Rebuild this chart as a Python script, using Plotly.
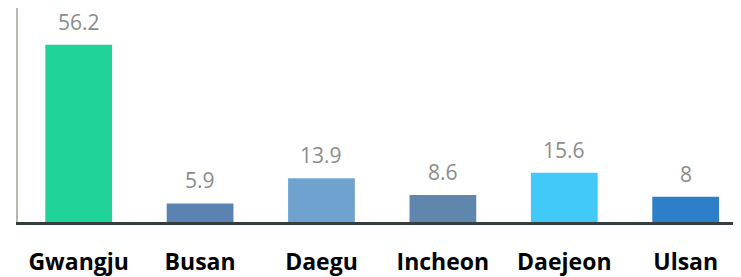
import plotly.graph_objects as go

cities = ["Gwangju", "Busan", "Daegu", "Incheon", "Daejeon", "Ulsan"]
values = [56.2, 5.9, 13.9, 8.6, 15.6, 8]
value_labels = ["56.2", "5.9", "13.9", "8.6", "15.6", "8"]
bar_colors = ["#1fd39b", "#5a83b2", "#70a2d0", "#5f87ae", "#40c9f9", "#2e7fc9"]

fig = go.Figure()
fig.add_trace(go.Bar(
    x=cities, y=values,
    marker=dict(color=bar_colors, line=dict(width=0)),
    width=0.55,
    hoverinfo="skip",
))

for c, v, t in zip(cities, values, value_labels):
    fig.add_annotation(
        x=c, y=v, text=t, showarrow=False, yanchor="bottom", yshift=7,
        font=dict(family="Open Sans", size=21, color="#8c8c8c"),
    )

# page body has an 8px default margin; margins compensate for it
fig.update_layout(
    width=741, height=277,
    margin=dict(l=10, r=3, t=0, b=63),
    paper_bgcolor="white", plot_bgcolor="white",
    showlegend=False,
)
fig.update_xaxes(
    range=[-0.5, 5.497], showgrid=False, zeroline=False,
    showline=True, linecolor="#363d3d", linewidth=3,
    ticks="", tickfont=dict(family="Open Sans", size=23, color="black", weight="bold"),
    ticklabelstandoff=17,
)
fig.update_yaxes(
    range=[0, 67.9], showgrid=False, zeroline=False,
    showline=True, linecolor="#b9b9b2", linewidth=2,
    showticklabels=False, ticks="",
)
fig.write_html("out.html")
